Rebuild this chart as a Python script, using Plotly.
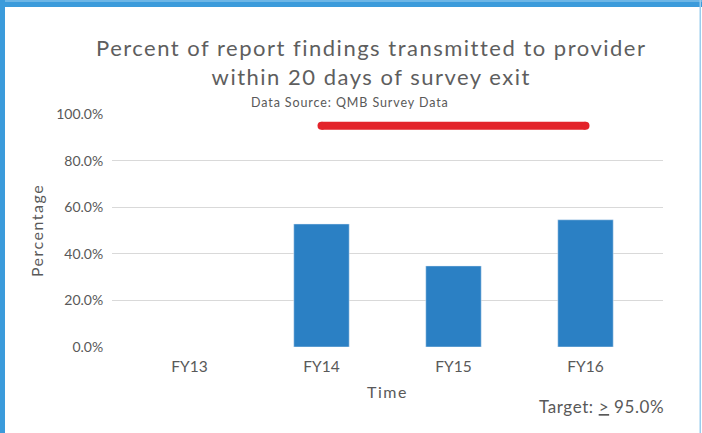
import plotly.graph_objects as go

categories = ["FY13", "FY14", "FY15", "FY16"]
values = [None, 52.8, 34.8, 54.6]
target_x = ["FY14", "FY16"]
target_y = [95.0, 95.0]
y_ticks = [0, 20, 40, 60, 80, 100]
y_tick_labels = ["0.0%", "20.0%", "40.0%", "60.0%", "80.0%", "100.0%"]

W, H = 702, 433
L, R, T, B = 112, 39, 114, 86
pw, ph = W - L - R, H - T - B

def px_x(px):
    return (px - L) / pw

def px_y(py):
    return (H - B - py) / ph

def spaced(text, ls):
    return f"<span style='letter-spacing:{ls}px'>{text}</span>"

TXT = "#595959"
FONT = "Lato"

fig = go.Figure()
fig.add_trace(go.Bar(x=categories, y=values, marker_color="#2B80C4", width=0.42,
                     showlegend=False))
fig.add_trace(go.Scatter(x=target_x, y=target_y, mode="lines+markers",
                         line=dict(color="#E3232A", width=8),
                         marker=dict(color="#E3232A", size=8),
                         showlegend=False, cliponaxis=False))

shapes = [
    dict(type="rect", xref="paper", yref="paper", x0=px_x(0), x1=px_x(702),
         y0=px_y(7), y1=px_y(0), fillcolor="#3B9BDB", line_width=0, layer="above"),
    dict(type="rect", xref="paper", yref="paper", x0=px_x(0), x1=px_x(702),
         y0=px_y(2), y1=px_y(0), fillcolor="#6DB6E6", line_width=0, layer="above"),
    dict(type="rect", xref="paper", yref="paper", x0=px_x(0), x1=px_x(5),
         y0=px_y(433), y1=px_y(0), fillcolor="#3B9BDB", line_width=0, layer="above"),
    dict(type="rect", xref="paper", yref="paper", x0=px_x(699.5), x1=px_x(701),
         y0=px_y(433), y1=px_y(0), fillcolor="#9ACDEE", line_width=0, layer="above"),
]

annotations = [
    dict(text=spaced("Data Source: QMB Survey Data", 0.9), xref="paper", yref="paper",
         x=px_x(350), y=px_y(102), showarrow=False, xanchor="center", yanchor="middle",
         font=dict(family=FONT, size=12.5, color=TXT)),
    dict(text="<span style='letter-spacing:0.6px'>Target: <span style='text-decoration:underline'>></span> 95.0%</span>",
         xref="paper", yref="paper", x=px_x(666), y=px_y(407), showarrow=False,
         xanchor="right", yanchor="middle", font=dict(family=FONT, size=17, color=TXT)),
    dict(text=spaced("Percent of report findings transmitted to provider", 1.5) + "<br>"
         + spaced("within 20 days of survey exit", 1.5),
         xref="paper", yref="paper", x=px_x(371), y=px_y(61.5), showarrow=False,
         xanchor="center", yanchor="middle", align="center",
         font=dict(family=FONT, size=22, color="#5E5E5E")),
]

fig.update_layout(
    width=W, height=H,
    margin=dict(l=L, r=R, t=T, b=B, autoexpand=False),
    paper_bgcolor="white", plot_bgcolor="white",
    shapes=shapes, annotations=annotations,
    font=dict(family=FONT, color=TXT),
)
fig.update_xaxes(type="category", categoryorder="array", categoryarray=categories,
                 range=[-0.587, 3.587], showline=False, showgrid=False, zeroline=False,
                 automargin=False, ticks="outside", ticklen=5, tickcolor="rgba(0,0,0,0)",
                 tickfont=dict(family=FONT, size=15.5, color=TXT),
                 title=dict(text=spaced("Time", 1.5), font=dict(family=FONT, size=16, color=TXT), standoff=13))
fig.update_yaxes(range=[0, 100], tickvals=y_ticks, ticktext=y_tick_labels,
                 showgrid=True, gridcolor="#D9D9D9", gridwidth=1, zeroline=False,
                 automargin=False,
                 showline=False, ticks="outside", ticklen=5, tickcolor="rgba(0,0,0,0)",
                 tickfont=dict(family=FONT, size=14, color=TXT),
                 title=dict(text=spaced("Percentage", 1.5), font=dict(family=FONT, size=16, color=TXT), standoff=8))

fig.write_html("out.html", config={"displayModeBar": False},
               post_script="document.body.style.margin='0px';")
